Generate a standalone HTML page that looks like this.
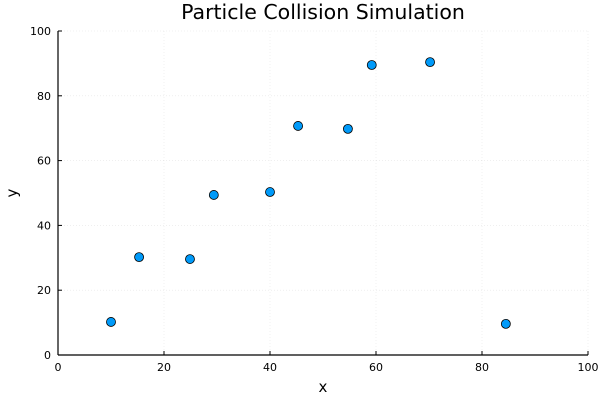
<!DOCTYPE html>
<html><head><meta charset="utf-8"><style>
body{margin:0;background:#fff}
svg text{font-family:"DejaVu Sans","Liberation Sans",sans-serif;fill:#000}
</style></head><body>
<svg width="600" height="400">
<g id="grid"></g>
<g id="axes"></g>
<g id="pts"></g>
<text x="323" y="19" font-size="20.5" text-anchor="middle">Particle Collision Simulation</text>
<text x="323" y="392" font-size="15" text-anchor="middle">x</text>
<text x="17" y="193" font-size="15" text-anchor="middle" transform="rotate(-90 17 193)">y</text>
</svg>
<script>
const xs=[10.0,15.3,24.9,29.4,40.0,45.3,54.7,59.2,70.2,84.5];
const ys=[10.2,30.2,29.6,49.4,50.3,70.7,69.8,89.5,90.4,9.6];
const xTicks=[0,20,40,60,80,100];
const yTicks=[0,20,40,60,80,100];
const X0=58,X1=588,Y0=355,Y1=31;
const sx=v=>X0+(v/100)*(X1-X0), sy=v=>Y0-(v/100)*(Y0-Y1);
const NS="http://www.w3.org/2000/svg";
function mk(t,a,p){const e=document.createElementNS(NS,t);for(const k in a)e.setAttribute(k,a[k]);p.appendChild(e);return e;}
const g=document.getElementById('grid'),ax=document.getElementById('axes'),pt=document.getElementById('pts');
xTicks.forEach(t=>{
 const l=mk('line',{x1:sx(t),x2:sx(t),y1:Y1,y2:Y0,stroke:'#000','stroke-opacity':0.1,'stroke-width':0.6,'stroke-dasharray':'1 2'},g);
 
 
 const tk=mk('line',{x1:sx(t),x2:sx(t),y1:Y0,y2:Y0-4,stroke:'#000','stroke-width':1},ax);
 
 
 const tx=mk('text',{x:sx(t),y:Y0+16,'font-size':11,'text-anchor':'middle'},ax);tx.textContent=t;
 
 
});
yTicks.forEach(t=>{
 const l=mk('line',{x1:X0,x2:X1,y1:sy(t),y2:sy(t),stroke:'#000','stroke-opacity':0.1,'stroke-width':0.6,'stroke-dasharray':'1 2'},g);
 
 
 const tk=mk('line',{x1:X0,x2:X0+4,y1:sy(t),y2:sy(t),stroke:'#000','stroke-width':1},ax);
 
 
 const tx=mk('text',{x:X0-7,y:sy(t)+4,'font-size':11,'text-anchor':'end'},ax);tx.textContent=t;
 
 
});
const xa=mk('line',{x1:X0,x2:X1,y1:Y0,y2:Y0,stroke:'#000','stroke-width':1.2},ax);


const ya=mk('line',{x1:X0,x2:X0,y1:Y0,y2:Y1,stroke:'#000','stroke-width':1.2},ax);


xs.forEach((x,i)=>{
 const c=mk('circle',{cx:sx(x),cy:sy(ys[i]),r:4.5,fill:'#009af9',stroke:'#000','stroke-width':0.8},pt);
 
 
});
</script>
</body></html>
